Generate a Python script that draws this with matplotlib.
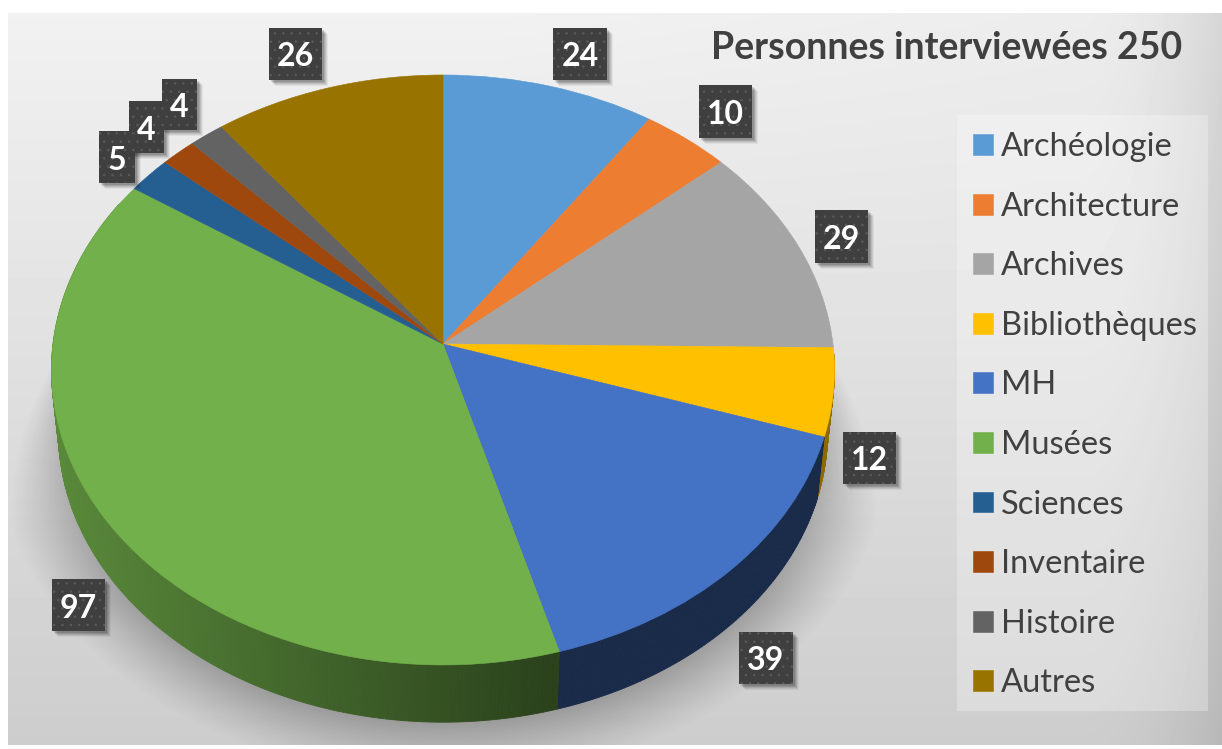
import numpy as np
import matplotlib
matplotlib.use("Agg")
import matplotlib.pyplot as plt
from matplotlib.patches import Rectangle
from matplotlib.collections import PolyCollection
from matplotlib.transforms import Transform

# ---- data ----
categories = ["Archéologie", "Architecture", "Archives", "Bibliothèques", "MH",
              "Musées", "Sciences", "Inventaire", "Histoire", "Autres"]
values = [24, 10, 29, 12, 39, 97, 5, 4, 4, 26]
colors = ["#5B9BD5", "#ED7D31", "#A5A5A5", "#FFC000", "#4472C4",
          "#72B04B", "#255E91", "#9E480E", "#636363", "#997300"]
title = "Personnes interviewées 250"

# ---- layout (pixels) ----
W, H = 1222, 749
CX, CY, RX, RY, K = 443.0, 344.0, 390.0, 292.7, 0.088
DEPTH_DY, DEPTH_S = 63.0, 0.982
label_boxes = [(553, 28, 54, 52), (699, 85, 53, 53), (815, 210, 53, 53), (843, 432, 53, 52),
               (739, 632, 54, 52), (52, 579, 53, 52), (99, 131, 36, 52), (129, 101, 35, 52),
               (162, 79, 35, 51), (269, 28, 53, 52)]

plt.rcParams["font.family"] = ["Lato", "DejaVu Sans"]
plt.rcParams["hatch.linewidth"] = 0.6


def project(u, v):
    w = 1.0 / (1.0 + K * v)
    return CX + RX * u * w, CY - RY * v * w


class Perspective(Transform):
    input_dims = output_dims = 2
    is_separable = False
    has_inverse = False

    def transform_non_affine(self, xy):
        xy = np.asarray(xy, dtype=float)
        x, y = project(xy[:, 0], xy[:, 1])
        return np.column_stack([x, y])


fig = plt.figure(figsize=(W / 100, H / 100), dpi=100, facecolor="white")
ax = fig.add_axes([0, 0, 1, 1])

# pie through the library, then mapped by the perspective transform
wedges, _ = ax.pie(values, colors=colors, startangle=90, counterclock=False, radius=1.0,
                   wedgeprops=dict(linewidth=0.4), normalize=True)
ax.set_aspect("auto")
ax.set_xlim(0, W)
ax.set_ylim(H, 0)
ax.axis("off")
persp = Perspective()
for w_, c in zip(wedges, colors):
    w_.set_transform(persp + ax.transData)
    w_.set_edgecolor(c)
    w_.set_zorder(5)

# background
yy, xx = np.mgrid[13:745, 8:W]
bg = 242 - 0.05 * yy - 22 * (np.clip(xx - 1080, 0, None) / 142.0) ** 2 - 6 * np.clip((300 - yy) / 300, 0, 1) * np.clip((xx - 500) / 700, 0, 1)
bg = np.clip(bg, 0, 255) / 255.0
ax.imshow(bg, extent=(8, W, 745, 13), cmap="gray", vmin=0, vmax=1, aspect="auto", zorder=0,
          interpolation="bilinear")

# shadow under the pie
xp = (xx - CX) / DEPTH_S
yp = (yy - CY - DEPTH_DY) / DEPTH_S
v_ = -yp / (RY + K * yp)
u_ = xp * (1 + K * v_) / RX
dist = (np.sqrt(u_ ** 2 + v_ ** 2) - 1.0) * 370.0
wid = np.clip(14 + (yy - 350) * 0.27, 1, 62)
alpha = (0.15 + 0.10 * np.clip((yy - 400) / 200, 0, 1)) * np.clip(1 - np.clip(dist, 0, None) / wid, 0, 1) ** 1.2
alpha[yy < 350] = 0
rgba = np.zeros(alpha.shape + (4,))
rgba[..., 3] = alpha
ax.imshow(rgba, extent=(8, W, 745, 13), aspect="auto", zorder=1, interpolation="bilinear")
ax.set_xlim(0, W)
ax.set_ylim(H, 0)

# side wall, from the same cumulative angles as the wedges
fracs = np.cumsum([0] + values) / np.sum(values) * 360.0
verts, fcs = [], []
segs = []
for i, c in enumerate(colors):
    rng = matplotlib.colors.to_rgb(c)
    a0, a1 = fracs[i], fracs[i + 1]
    lo, hi = max(a0, 92.0), min(a1, 300.0)
    if hi <= lo:
        continue
    edges = np.linspace(lo, hi, max(2, int((hi - lo) * 2) + 1))
    for e0, e1 in zip(edges[:-1], edges[1:]):
        segs.append((0.5 * (e0 + e1), e0, e1, rng))
# draw the outer ends first so that the front stays on top
segs.sort(key=lambda s: -abs(np.sin(np.radians(s[0]))))
for mid, e0, e1, rng in segs:
    t = np.radians([e0, e1])
    x, y = project(np.sin(t), np.cos(t))
    xb = CX + DEPTH_S * (x - CX)
    yb = CY + DEPTH_DY + DEPTH_S * (y - CY)
    xm = x.mean()
    f = 0.38 if xm > 555 else 0.78 - 0.41 * (xm - 55) / 500
    if rng == matplotlib.colors.to_rgb(colors[3]):
        f = 0.55
    col = tuple(np.array(rng) * f)
    verts.append([(x[0], y[0]), (x[1], y[1]), (xb[1], yb[1]), (xb[0], yb[0])])
    fcs.append(col)
ax.add_collection(PolyCollection(verts, facecolors=fcs, edgecolors=fcs, linewidths=0.6, zorder=3))

# value labels
for (x0, y0, bw, bh), val in zip(label_boxes, values):
    for off, al in [(6, 0.05), (5, 0.07), (4, 0.09), (3, 0.11), (2, 0.13)]:
        ax.add_patch(Rectangle((x0 + off, y0 + off), bw, bh, facecolor="black", alpha=al, lw=0, zorder=6))
for (x0, y0, bw, bh), val in zip(label_boxes, values):
    ax.add_patch(Rectangle((x0, y0), bw, bh, facecolor="#3F3F3F", edgecolor="#5A5A5A", hatch="..", lw=0, zorder=7))
    ax.text(x0 + bw / 2, y0 + bh / 2 + 3, str(val), color="white", fontsize=23, fontweight="bold",
            ha="center", va="center", zorder=8)

# title
ax.text(711, 48, title, color="#404040", fontsize=27, fontweight="bold", ha="left", va="center", zorder=8)

# legend
ax.add_patch(Rectangle((957, 115), 251, 596, facecolor="white", alpha=0.28, lw=0, zorder=2))
leg = ax.legend(wedges, categories, loc="upper left", bbox_to_anchor=(963 / W, 1 - 122.5 / H),
                bbox_transform=fig.transFigure, frameon=False, fontsize=23.5, labelcolor="#404040",
                handlelength=0.61, handleheight=0.61, handletextpad=0.25, labelspacing=0.905,
                borderpad=0.3, borderaxespad=0)
leg.set_zorder(9)

fig.savefig("out.png", dpi=100, facecolor="white")
